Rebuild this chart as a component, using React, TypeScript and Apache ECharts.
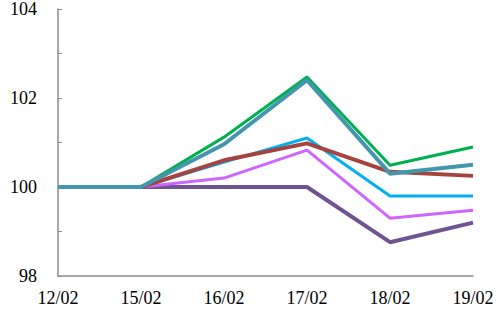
import React, { useEffect, useRef } from "react";
import * as echarts from "echarts";

const categories = ["12/02", "15/02", "16/02", "17/02", "18/02", "19/02"];
const darkPurple = [100, 100, 100, 100, 98.76, 99.2];
const violet = [100, 100, 100.2, 100.83, 99.3, 99.48];
const cyan = [100, 100, 100.56, 101.1, 99.8, 99.8];
const red = [100, 100, 100.6, 100.98, 100.34, 100.25];
const green = [100, 100, 101.12, 102.47, 100.49, 100.9];
const teal = [100, 100, 100.96, 102.4, 100.3, 100.5];

const seriesDefs = [
  { name: "A", data: darkPurple, color: "#6E5592", width: 4 },
  { name: "B", data: violet, color: "#CC66FF", width: 3 },
  { name: "C", data: cyan, color: "#00B0F0", width: 3 },
  { name: "D", data: red, color: "#A5433F", width: 4 },
  { name: "E", data: green, color: "#00B050", width: 3 },
  { name: "F", data: teal, color: "#4397AD", width: 4 },
];

const FONT = "Times New Roman";

export default function App() {
  const ref = useRef<HTMLDivElement>(null);
  useEffect(() => {
    const chart = echarts.init(ref.current!, null, { renderer: "svg" });
    chart.setOption({
      animation: false,
      textStyle: { fontFamily: FONT, fontSize: 18 },
      grid: { left: 58, right: 27, top: 8, bottom: 42 },
      xAxis: {
        type: "category",
        data: categories,
        boundaryGap: false,
        axisLine: { lineStyle: { color: "#8C8C8C", width: 1.5 } },
        axisTick: { show: false },
        axisLabel: {
          color: "#000",
          fontFamily: FONT,
          fontSize: 18,
          margin: 13,
        },
      },
      yAxis: {
        type: "value",
        min: 98,
        max: 104,
        interval: 1,
        splitLine: { show: false },
        axisLine: { show: true, lineStyle: { color: "#8C8C8C", width: 1.5 } },
        axisTick: { show: true, inside: true, length: 4, lineStyle: { color: "#8C8C8C" } },
        axisLabel: {
          color: "#000",
          fontFamily: FONT,
          fontSize: 18,
          margin: 21,
          formatter: (v: number) => (v % 2 === 0 ? String(v) : ""),
        },
      },
      series: seriesDefs.map((s) => ({
        name: s.name,
        type: "line",
        data: s.data,
        symbol: "none",
        lineStyle: { color: s.color, width: s.width },
        itemStyle: { color: s.color },
      })),
    });
    return () => chart.dispose();
  }, []);
  return <div ref={ref} style={{ width: 500, height: 318, position: "absolute", left: 0, top: 0 }} />;
}
